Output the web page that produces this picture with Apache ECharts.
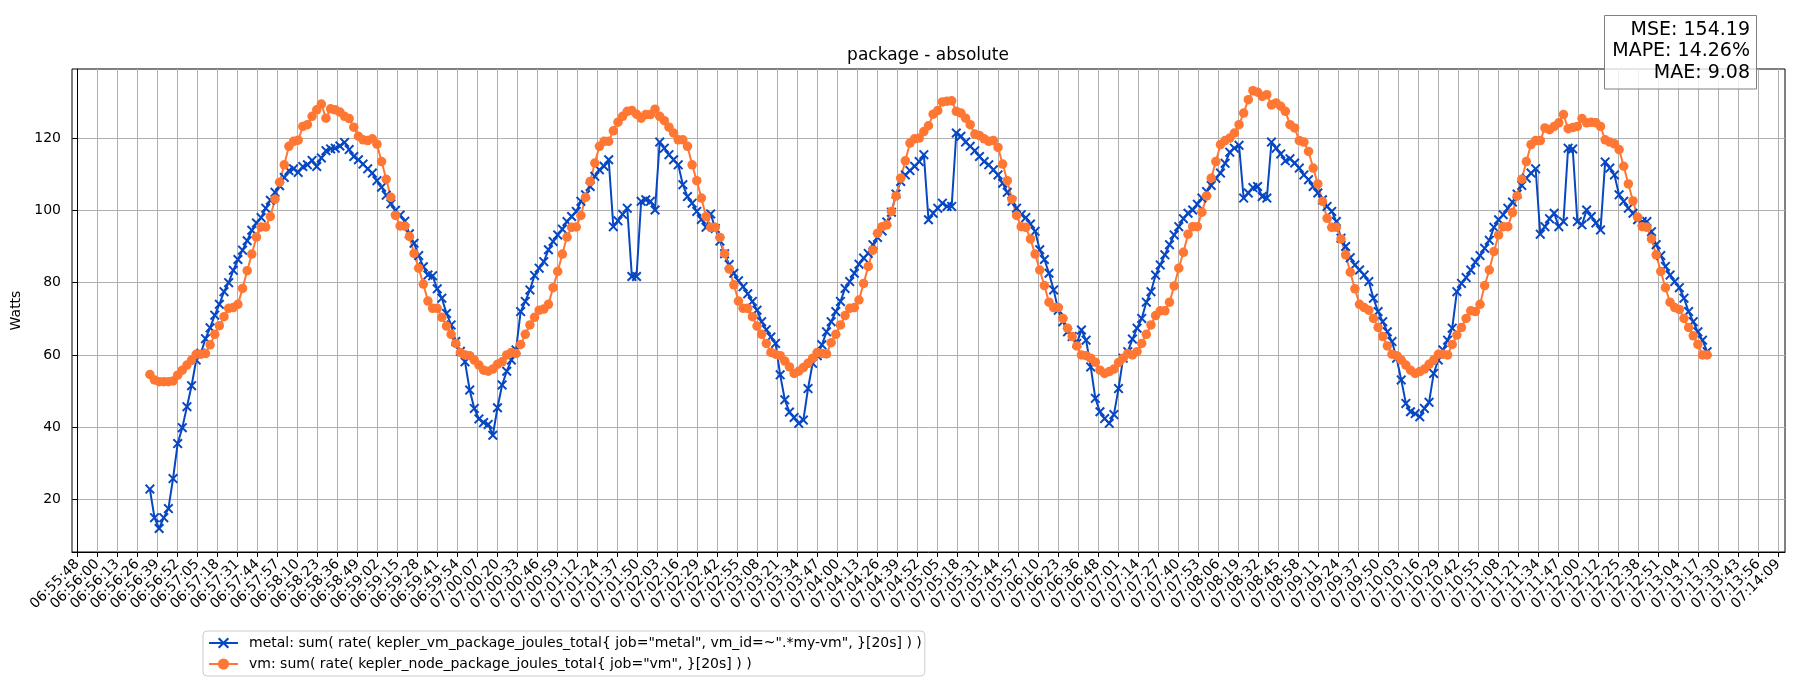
<!DOCTYPE html>
<html>
<head>
<meta charset="utf-8">
<title>package - absolute</title>
<script src="https://cdn.jsdelivr.net/npm/echarts@6/dist/echarts.min.js"></script>
<style>
    html, body { margin: 0; padding: 0; background: #fff; }
    #chart-1 { width: 1800px; height: 700px; }
</style>
</head>
<body>
<div id="chart-1"></div>
<script>
// tick labels on the time axis (evenly spaced between first and last)
const tickLabels = [
    '06:55:48', '06:56:00', '06:56:13', '06:56:26', '06:56:39', '06:56:52', '06:57:05', '06:57:18', '06:57:31', '06:57:44',
    '06:57:57', '06:58:10', '06:58:23', '06:58:36', '06:58:49', '06:59:02', '06:59:15', '06:59:28', '06:59:41', '06:59:54',
    '07:00:07', '07:00:20', '07:00:33', '07:00:46', '07:00:59', '07:01:12', '07:01:24', '07:01:37', '07:01:50', '07:02:03',
    '07:02:16', '07:02:29', '07:02:42', '07:02:55', '07:03:08', '07:03:21', '07:03:34', '07:03:47', '07:04:00', '07:04:13',
    '07:04:26', '07:04:39', '07:04:52', '07:05:05', '07:05:18', '07:05:31', '07:05:44', '07:05:57', '07:06:10', '07:06:23',
    '07:06:36', '07:06:48', '07:07:01', '07:07:14', '07:07:27', '07:07:40', '07:07:53', '07:08:06', '07:08:19', '07:08:32',
    '07:08:45', '07:08:58', '07:09:11', '07:09:24', '07:09:37', '07:09:50', '07:10:03', '07:10:16', '07:10:29', '07:10:42',
    '07:10:55', '07:11:08', '07:11:21', '07:11:34', '07:11:47', '07:12:00', '07:12:12', '07:12:25', '07:12:38', '07:12:51',
    '07:13:04', '07:13:17', '07:13:30', '07:13:43', '07:13:56', '07:14:09'
]
const yTicks = [20, 40, 60, 80, 100, 120]

// samples: seconds after 06:55:48, one every 3s
const startSec = 47
const stepSec = 3

const seriesNames = [
    'metal: sum( rate( kepler_vm_package_joules_total{ job="metal", vm_id=~".*my-vm", }[20s] ) )',
    'vm: sum( rate( kepler_node_package_joules_total{ job="vm", }[20s] ) )'
]

const metalValues = [
    22.9, 15.0, 12.0, 15.0, 17.5, 25.8, 35.5, 39.9, 45.7, 51.5,
    58.6, 60.5, 64.5, 67.5, 71.0, 74.0, 77.5, 80.0, 83.4, 86.4,
    89.0, 91.6, 94.5, 96.5, 98.0, 100.6, 102.8, 105.0, 106.8, 109.1,
    111.0, 111.5, 110.5, 112.1, 112.6, 113.8, 112.1, 114.5, 116.5, 117.0,
    117.2, 117.8, 118.8, 116.8, 114.9, 114.0, 112.8, 111.5, 110.3, 108.2,
    106.4, 104.2, 101.8, 100.0, 98.7, 97.0, 93.5, 90.9, 87.5,
    84.4, 82.1, 81.9, 78.3, 75.7, 71.5, 68.3, 63.7, 61.0, 58.1,
    50.3, 45.2, 42.3, 41.3, 40.8, 37.8, 45.4, 51.7, 55.5, 58.6,
    61.4, 72.0, 74.8, 78.0, 82.0, 84.0, 85.8, 89.1, 91.4, 93.2,
    94.8, 96.9, 98.3, 99.7, 102.5, 104.3, 106.6, 109.4, 111.2, 112.2,
    114.0, 95.5, 97.1, 98.9, 100.6, 81.7, 81.7, 102.5, 102.9, 102.5,
    100.1, 118.9, 117.2, 115.4, 114.0, 112.6, 107.1,
    103.8, 102.0, 99.7, 97.5, 95.3, 99.0, 95.0, 91.5, 88.0, 85.0,
    82.6, 80.5, 78.9, 76.9, 74.8, 72.4, 69.2, 67.0, 65.0, 63.2,
    54.5, 47.6, 44.2, 42.7, 41.1, 42.0, 50.7, 57.7, 59.8, 62.8,
    66.4, 69.2, 72.0, 74.8, 78.4, 80.3, 82.6, 85.1, 86.8, 88.1,
    90.5, 92.5, 94.3, 96.8, 99.5, 104.5, 108.0, 109.8, 111.0, 112.2,
    113.5, 115.4, 97.4, 99.2, 100.6, 102.0, 101.1, 101.1,
    121.4, 120.5, 118.9, 117.7, 116.5, 114.9, 113.5, 112.6, 111.2, 109.8,
    107.5, 105.0, 102.5, 100.6, 98.8, 98.0, 96.2, 94.2, 89.1, 86.4,
    82.6, 78.0, 72.4, 69.2, 66.4, 65.1, 63.2, 66.9, 64.1, 56.7,
    48.0, 44.3, 42.4, 41.1, 43.5, 50.7, 59.1, 60.9, 64.4, 67.4,
    70.1, 74.6, 77.5, 82.1, 84.9, 87.7, 90.5, 93.2, 95.5, 97.7,
    99.2, 100.1, 101.7, 103.4, 105.2, 106.9, 108.9, 110.3, 113.0,
    116.1, 117.2, 118.0, 103.4, 104.8, 106.3, 106.6, 103.8, 103.4, 118.9,
    117.2, 115.6, 113.7, 114.3, 113.1, 111.7, 109.8, 108.5, 106.6, 104.8,
    102.9, 101.1, 99.7, 96.9, 92.3, 90.0, 86.9, 84.9, 83.5, 82.1,
    80.3, 75.7, 72.0, 69.2, 66.4, 63.7, 59.1, 53.1, 46.6, 44.3,
    43.8, 42.9, 45.2, 46.9, 54.9, 58.6, 61.4, 64.1, 67.4, 77.5,
    79.8, 81.4, 83.5, 85.7, 87.5, 89.5, 91.7, 95.3,
    97.4, 98.8, 100.6, 102.3, 104.5, 106.9, 108.9, 110.3, 111.5, 93.4,
    95.5, 97.7, 99.2, 95.5, 96.9, 117.2, 117.0, 96.9, 96.0, 100.1,
    98.3, 96.5, 94.6, 113.4, 111.7, 109.8, 104.3, 102.5, 100.6, 99.2,
    97.4, 96.9, 96.9, 94.1, 90.5, 87.5, 84.5, 82.1, 80.3, 78.6,
    75.7, 72.0, 69.2, 66.4, 64.1, 60.9
]

const vmValues = [
    54.6, 53.1, 52.6, 52.6, 52.6, 52.8, 54.4, 55.8, 57.2, 58.6,
    60.2, 60.2, 60.4, 62.8, 65.7, 68.1, 70.6, 72.9, 73.1, 74.0,
    78.4, 83.3, 87.9, 92.6, 95.4, 95.4, 98.3, 103.1, 107.8, 112.6,
    117.7, 119.1, 119.4, 123.2, 123.7, 126.0, 127.8, 129.4, 125.5, 128.1,
    127.8, 127.2, 126.0, 125.4, 123.0, 120.5, 119.5, 119.3, 119.8, 118.3,
    113.5, 108.6, 103.6, 98.6, 95.7, 95.6, 92.8, 88.1, 84.0,
    79.6, 74.9, 72.9, 72.9, 70.4, 68.0, 65.7, 63.2, 60.7, 60.0,
    59.8, 58.6, 57.2, 55.8, 55.5, 56.1, 57.4, 58.1, 60.0, 60.7,
    60.4, 62.9, 65.7, 68.3, 70.4, 72.4, 72.7, 74.0, 78.6, 83.1,
    87.9, 92.6, 95.3, 95.4, 98.6, 103.6, 108.0, 113.1, 117.7, 119.1,
    119.1, 122.0, 124.4, 126.0, 127.4, 127.6, 126.6, 125.5, 126.5, 126.5,
    128.0, 126.0, 124.8, 123.0, 121.4, 119.5, 119.5,
    117.7, 112.6, 108.2, 103.4, 98.3, 95.3, 95.3, 92.5, 88.0, 83.8,
    79.4, 74.9, 72.9, 72.9, 70.6, 68.0, 65.7, 63.2, 60.7, 60.2,
    59.8, 58.3, 56.7, 54.9, 55.5, 56.5, 57.7, 59.1, 60.7, 60.4,
    60.3, 63.4, 65.7, 68.3, 70.9, 72.9, 73.1, 75.2, 79.8, 84.5,
    89.0, 93.7, 95.5, 96.0, 99.7, 104.0, 108.9, 113.7, 118.6, 119.8,
    120.0, 121.8, 123.4, 126.6, 127.6, 130.0, 130.2, 130.3,
    127.4, 126.9, 125.5, 123.7, 121.1, 120.7, 119.8, 119.1, 119.3, 117.4,
    112.8, 108.2, 103.1, 98.6, 95.5, 95.3, 92.1, 87.9, 83.5, 79.2,
    74.6, 73.1, 73.1, 70.1, 67.4, 65.1, 62.5, 60.0, 59.8, 59.1,
    58.0, 55.8, 54.9, 55.4, 56.1, 57.9, 59.1, 60.4, 60.0, 60.9,
    63.2, 65.7, 68.3, 70.9, 72.2, 72.2, 74.6, 79.1, 84.0, 88.4,
    93.4, 95.5, 95.5, 99.5, 104.0, 108.9, 113.5, 118.2, 119.3,
    120.0, 121.4, 123.7, 126.9, 130.6, 133.1, 132.7, 131.5, 132.0, 129.2,
    129.7, 128.8, 127.4, 123.7, 122.8, 119.3, 118.9, 116.3, 111.7, 107.3,
    102.5, 97.8, 95.3, 95.3, 92.1, 87.7, 82.9, 78.3, 74.0, 73.1,
    72.4, 70.1, 67.6, 65.1, 62.5, 60.2, 59.8, 58.6, 57.2, 55.8,
    54.9, 55.4, 56.1, 57.4, 58.6, 60.2, 60.2, 60.0, 62.9, 65.5,
    67.6, 70.1, 72.2, 72.0, 74.0, 79.2, 83.5, 88.6,
    93.2, 95.5, 95.5, 99.4, 104.0, 108.6, 113.5, 118.2, 119.3, 119.3,
    122.8, 122.3, 123.2, 124.2, 126.5, 122.6, 122.9, 123.2, 125.4, 124.2,
    124.4, 124.2, 123.2, 119.5, 118.9, 118.4, 116.8, 112.2, 107.3, 102.6,
    98.1, 95.5, 95.3, 92.1, 87.7, 83.1, 78.6, 74.6, 73.1, 72.6,
    70.1, 67.6, 65.3, 62.9, 60.0, 60.0
]

const stats = ['MSE: 154.19', 'MAPE: 14.26%', 'MAE: 9.08']

const FONT = 'DejaVu Sans'
const BLUE = '#0747c4'
const ORANGE = '#ff7733'
// filled "x" marker
const X_SYMBOL = 'path://M0,1.4L1.4,0L5,3.6L8.6,0L10,1.4L6.4,5L10,8.6L8.6,10L5,6.4L1.4,10L0,8.6L3.6,5Z'

function toSec(label) {
    const p = label.split(':').map(Number)
    return p[0] * 3600 + p[1] * 60 + p[2]
}
const tickSpan = toSec(tickLabels[tickLabels.length - 1]) - toSec(tickLabels[0])
const tickStep = tickSpan / (tickLabels.length - 1)
const tickValues = tickLabels.map((_, i) => i * tickStep)

function pairs(values) {
    return values.map((v, i) => [startSec + i * stepSec, v])
}

const myChart = echarts.init(document.getElementById('chart-1'))

const option = {
    animation: false,
    textStyle: { fontFamily: FONT },
    grid: {
        left: 72, top: 69, right: 15, bottom: 148,
        show: true, borderColor: '#000', borderWidth: 1
    },
    xAxis: {
        type: 'value',
        min: -3.4,
        max: 1105.4,
        axisLine: { onZero: false, lineStyle: { color: '#000', width: 1 } },
        axisTick: { customValues: tickValues, length: 5, lineStyle: { color: '#000', width: 1 } },
        axisLabel: {
            customValues: tickValues,
            rotate: 45,
            margin: 10,
            color: '#000',
            fontSize: 14,
            fontFamily: FONT,
            formatter: function (v) { return tickLabels[Math.round(v / tickStep)] }
        },
        splitLine: { show: true, lineStyle: { color: '#b0b0b0', width: 1 } }
    },
    yAxis: {
        type: 'value',
        min: 5.5,
        max: 139.1,
        name: 'Watts',
        nameLocation: 'middle',
        nameGap: 31,
        nameTextStyle: { color: '#000', fontSize: 14, fontFamily: FONT },
        axisLine: { show: true, lineStyle: { color: '#000', width: 1 } },
        axisTick: { show: true, customValues: yTicks, length: 5, lineStyle: { color: '#000', width: 1 } },
        axisLabel: { customValues: yTicks, margin: 11, color: '#000', fontSize: 14, fontFamily: FONT },
        splitLine: { show: true, lineStyle: { color: '#b0b0b0', width: 1 } }
    },
    legend: {
        left: 203,
        top: 631,
        orient: 'vertical',
        itemWidth: 29,
        itemHeight: 14,
        itemGap: 7,
        padding: [5, 3, 5, 5],
        borderColor: '#cccccc',
        borderWidth: 1,
        borderRadius: 4,
        backgroundColor: '#fff',
        textStyle: { color: '#000', fontSize: 14, fontFamily: FONT, padding: [0, 0, 0, 6] },
        data: seriesNames
    },
    graphic: [
        {
            type: 'text',
            x: 928, y: 56,
            style: {
                text: 'package - absolute',
                align: 'center', verticalAlign: 'middle',
                font: '17px "DejaVu Sans"', fill: '#000'
            }
        },
        {
            type: 'rect',
            z: 100,
            shape: { x: 1604.5, y: 15.5, width: 152, height: 73.5 },
            style: { fill: 'rgba(255,255,255,0.8)', stroke: '#808080', lineWidth: 1 }
        },
        {
            type: 'text',
            z: 101,
            x: 1750, y: 19,
            style: {
                text: stats.join('\n'),
                align: 'right', verticalAlign: 'top',
                font: '19px "DejaVu Sans"', lineHeight: 21.5, fill: '#000'
            }
        }
    ],
    series: [
        {
            name: seriesNames[0],
            type: 'line',
            data: pairs(metalValues),
            symbol: X_SYMBOL,
            symbolSize: 10,
            showSymbol: true,
            showAllSymbol: true,
            color: BLUE,
            lineStyle: { color: BLUE, width: 2 },
            itemStyle: { color: BLUE },
            emphasis: { disabled: true }
        },
        {
            name: seriesNames[1],
            type: 'line',
            data: pairs(vmValues),
            symbol: 'circle',
            symbolSize: 9.5,
            showSymbol: true,
            showAllSymbol: true,
            color: ORANGE,
            lineStyle: { color: ORANGE, width: 2 },
            itemStyle: { color: ORANGE },
            emphasis: { disabled: true }
        }
    ]
}

myChart.setOption(option)
</script>
</body>
</html>
